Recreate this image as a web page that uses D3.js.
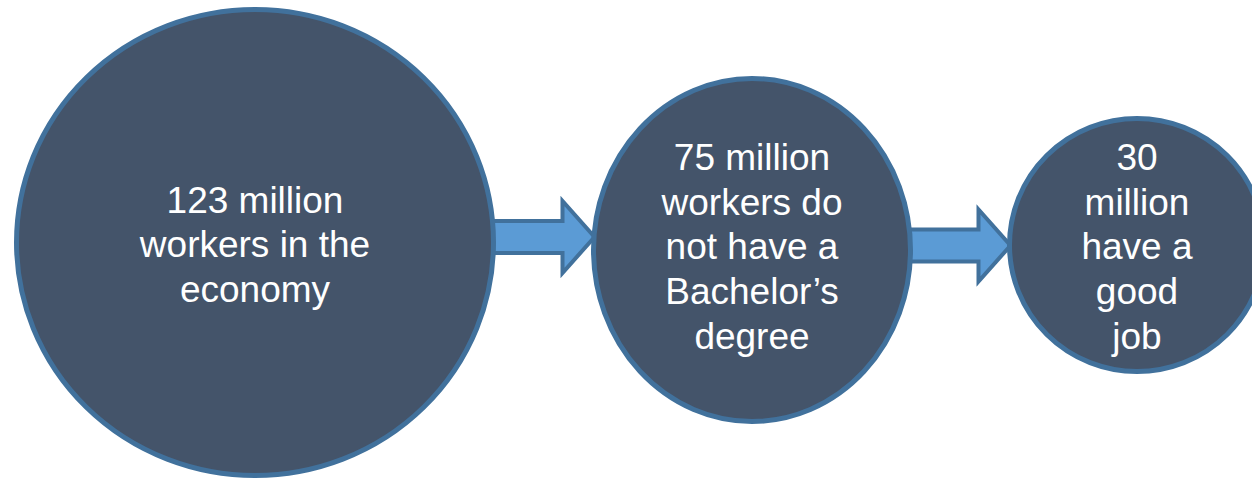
<!DOCTYPE html>
<html>
<head>
<meta charset="utf-8">
<script src="https://cdn.jsdelivr.net/npm/d3@7"></script>
<style>
  html, body { margin: 0; padding: 0; background: #fff; }
  svg { display: block; }
</style>
</head>
<body>
<svg width="1252" height="479"></svg>
<script>
const width = 1252,
    height = 479;

// data
const stages = ["all", "noBA", "goodJob"];
const workers = [123, 75, 30]; // millions
const labels = [
  ["123 million", "workers in the", "economy"],
  ["75 million", "workers do", "not have a", "Bachelor\u2019s", "degree"],
  ["30", "million", "have a", "good", "job"]
];

// layout
const cx = d3.scaleOrdinal().domain(stages).range([255, 752, 1137]);
const cy = d3.scaleOrdinal().domain(stages).range([242.5, 250, 245]);
const rx = d3.scaleOrdinal().domain(stages).range([238.5, 158.5, 127.5]);
const ry = d3.scaleOrdinal().domain(stages).range([233, 171.5, 126.5]);
const textY = d3.scaleOrdinal().domain(stages).range([244.5, 246.5, 246.5]);
const arrowY = d3.scaleOrdinal().domain(stages).range([0, 237, 245.5]);

const fill = "#44546A",
    edge = "#41719C",
    arrowFill = "#5B9BD5",
    lineH = 44.7;

const svg = d3.select("svg");

const rows = stages.map((s, i) => ({ stage: s, value: workers[i], lines: labels[i] }));

// arrows between circles
const arrows = d3.pairs(rows).map(([a, b]) => {
  const x0 = cx(a.stage) + rx(a.stage) - 4,
      x1 = cx(b.stage) - rx(b.stage) + 1,
      y = arrowY(b.stage),
      sh = 16, hh = 36, hl = 32;
  return [
    [x0, y - sh], [x1 - hl, y - sh], [x1 - hl, y - hh], [x1, y],
    [x1 - hl, y + hh], [x1 - hl, y + sh], [x0, y + sh]
  ];
});

svg.append("g")
  .selectAll("path")
  .data(arrows)
  .join("path")
  .attr("d", d => d3.line()(d) + "Z")
  .attr("fill", arrowFill)
  .attr("stroke", edge)
  .attr("stroke-width", 4)
  .attr("stroke-linejoin", "miter");

const nodes = svg.append("g")
  .selectAll("g")
  .data(rows)
  .join("g");

nodes.append("ellipse")
  .attr("cx", d => cx(d.stage))
  .attr("cy", d => cy(d.stage))
  .attr("rx", d => rx(d.stage))
  .attr("ry", d => ry(d.stage))
  .attr("fill", fill)
  .attr("stroke", edge)
  .attr("stroke-width", 5);

nodes.append("text")
  .attr("text-anchor", "middle")
  .attr("fill", "#fff")
  .style("font-family", "'Liberation Sans', Arial, sans-serif")
  .style("font-size", "37px")
  .selectAll("tspan")
  .data(d => d.lines.map((t, i) => ({ t, i, n: d.lines.length, d })))
  .join("tspan")
  .attr("x", l => cx(l.d.stage))
  .attr("y", l => textY(l.d.stage) + (l.i - (l.n - 1) / 2) * lineH)
  .attr("dy", "0.35em")
  .text(l => l.t);
</script>
</body>
</html>
